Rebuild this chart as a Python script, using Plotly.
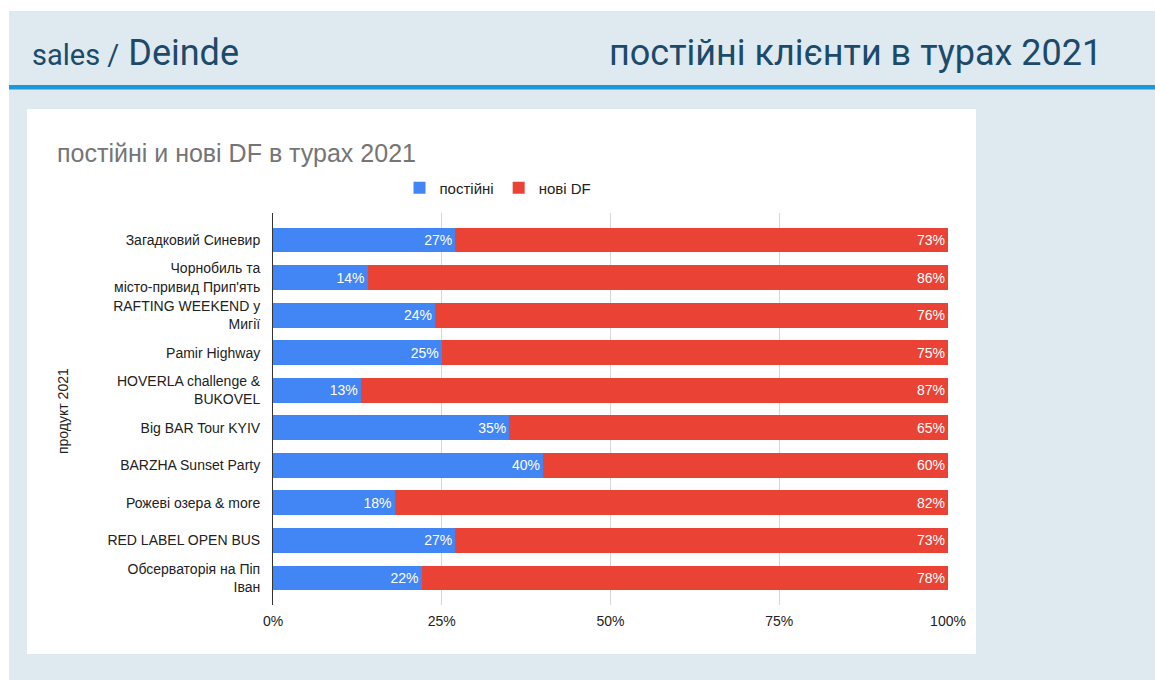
import plotly.graph_objects as go

# ---- data ----
products = [
    "Загадковий Синевир",
    "Чорнобиль та<br>місто-привид Прип'ять",
    "RAFTING WEEKEND у<br>Мигії",
    "Pamir Highway",
    "HOVERLA challenge &<br>BUKOVEL",
    "Big BAR Tour KYIV",
    "BARZHA Sunset Party",
    "Рожеві озера & more",
    "RED LABEL OPEN BUS",
    "Обсерваторія на Піп<br>Іван",
]
regular = [27, 14, 24, 25, 13, 35, 40, 18, 27, 22]
new_df = [73, 86, 76, 75, 87, 65, 60, 82, 73, 78]
series_names = ["постійні", "нові DF"]
x_ticks = [0, 25, 50, 75, 100]
x_tick_text = ["0%", "25%", "50%", "75%", "100%"]

W_FIG, H_FIG = 1155, 680
L, R, T, B = 273, 1155 - 948, 213, 680 - 605
PW, PH = W_FIG - L - R, H_FIG - T - B


def px(x):
    return (x - L) / PW


def py(y):
    return (H_FIG - B - y) / PH


BLUE = "#4285f4"
RED = "#ea4335"
SLIDE_BG = "#dfe9f0"
NAVY = "#1c4a6a"
CHART_FONT = "Arial, Liberation Sans, sans-serif"

fig = go.Figure()
for vals, name, color in [(regular, series_names[0], BLUE), (new_df, series_names[1], RED)]:
    fig.add_trace(go.Bar(
        y=products, x=vals, orientation="h", name=name,
        marker=dict(color=color, line=dict(width=0)),
        text=[f"{v}%" for v in vals], textposition="inside", insidetextanchor="end",
        textfont=dict(color="white", size=14, family=CHART_FONT),
        hoverinfo="skip",
    ))

shapes = [
    # slide background
    dict(type="rect", xref="paper", yref="paper", x0=px(9), x1=px(1160), y0=py(11), y1=py(685),
         fillcolor=SLIDE_BG, line=dict(width=0), layer="below"),
    # header line
    dict(type="rect", xref="paper", yref="paper", x0=px(9), x1=px(1160), y0=py(85), y1=py(89.5),
         fillcolor="#1c98da", line=dict(width=0), layer="below"),
    # white card
    dict(type="rect", xref="paper", yref="paper", x0=px(27), x1=px(976), y0=py(109), y1=py(654),
         fillcolor="white", line=dict(width=0), layer="below"),
]

annotations = [
    dict(xref="paper", yref="paper", x=px(30), y=py(53), xanchor="left", yanchor="middle",
         text="<span style='font-size:29px'>sales /</span> <span style='font-size:36px'>Deinde</span>",
         showarrow=False, font=dict(family="Roboto", color=NAVY, size=36)),
    dict(xref="paper", yref="paper", x=px(1104), y=py(53), xanchor="right", yanchor="middle",
         text="постійні клієнти в турах 2021",
         showarrow=False, font=dict(family="Roboto", color=NAVY, size=36)),
    dict(xref="paper", yref="paper", x=px(55), y=py(153), xanchor="left", yanchor="middle",
         text="постійні и нові DF в турах 2021",
         showarrow=False, font=dict(family=CHART_FONT, color="#757575", size=25)),
    dict(xref="paper", yref="paper", x=px(63), y=py(411), xanchor="center", yanchor="middle",
         text="продукт 2021", textangle=-90,
         showarrow=False, font=dict(family=CHART_FONT, color="#222222", size=14)),
]

fig.update_layout(
    width=W_FIG, height=H_FIG,
    margin=dict(l=L, r=R, t=T, b=B, pad=0),
    paper_bgcolor="white", plot_bgcolor="rgba(0,0,0,0)",
    barmode="stack", bargap=0.34,
    showlegend=True,
    legend=dict(orientation="h", xanchor="center", yanchor="middle",
                x=px(498), y=py(188), font=dict(family=CHART_FONT, size=15, color="#222222"),
                bgcolor="rgba(0,0,0,0)", traceorder="normal"),
    shapes=shapes, annotations=annotations,
    font=dict(family=CHART_FONT),
)
fig.update_xaxes(
    range=[0, 100], tickvals=x_ticks, ticktext=x_tick_text, showgrid=True, gridcolor="#d6d6d6",
    gridwidth=1, zeroline=False, showline=False, ticks="",
    tickfont=dict(family=CHART_FONT, size=14, color="#222222"), ticklabelstandoff=6,
)
fig.update_yaxes(
    range=[9.72, -0.72], showline=True, linecolor="#333333", linewidth=1, ticks="",
    showgrid=False, zeroline=False,
    tickfont=dict(family=CHART_FONT, size=14, color="#222222"), ticklabelstandoff=9,
)

fig.write_html("out.html")
